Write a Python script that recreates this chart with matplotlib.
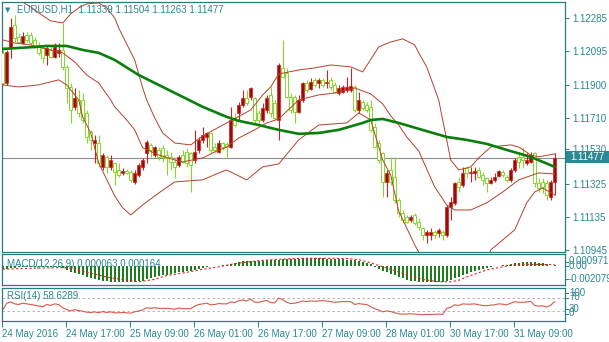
import numpy as np
import matplotlib
matplotlib.use("Agg")
import matplotlib.pyplot as plt
from matplotlib.patches import Rectangle

# EURUSD H1, 24-31 May 2016 (one value per hourly bar)
opens = [
    1.12084, 1.11910, 1.12118, 1.12245, 1.12176, 1.12141, 1.12188, 1.12188, 1.12159, 1.12130,
    1.12113, 1.12072, 1.12101, 1.12061, 1.12084, 1.12101, 1.12003, 1.11887, 1.11772, 1.11812,
    1.11812, 1.11737, 1.11627, 1.11563, 1.11563, 1.11425, 1.11483, 1.11425, 1.11448, 1.11407,
    1.11390, 1.11402, 1.11396, 1.11338, 1.11378, 1.11425, 1.11506, 1.11552, 1.11494, 1.11523,
    1.11535, 1.11494, 1.11483, 1.11454, 1.11436, 1.11494, 1.11511, 1.11506, 1.11465, 1.11523,
    1.11581, 1.11598, 1.11621, 1.11540, 1.11511, 1.11563, 1.11558, 1.11540, 1.11708, 1.11737,
    1.11783, 1.11824, 1.11829, 1.11824, 1.11737, 1.11696, 1.11754, 1.11841, 1.11795, 1.11696,
    1.11997, 1.11968, 1.11829, 1.11829, 1.11743, 1.11812, 1.11910, 1.11876, 1.11928, 1.11910,
    1.11928, 1.11910, 1.11928, 1.11899, 1.11852, 1.11858, 1.11870, 1.11870, 1.11887, 1.11754,
    1.11800, 1.11783, 1.11772, 1.11656, 1.11563, 1.11506, 1.11338, 1.11407, 1.11367, 1.11234,
    1.11159, 1.11136, 1.11118, 1.11147, 1.11107, 1.11072, 1.11032, 1.11032, 1.11049, 1.11043,
    1.11049, 1.11032, 1.11194, 1.11217, 1.11338, 1.11321, 1.11419, 1.11390, 1.11390, 1.11407,
    1.11378, 1.11361, 1.11332, 1.11350, 1.11373, 1.11396, 1.11367, 1.11350, 1.11407, 1.11483,
    1.11483, 1.11448, 1.11454, 1.11506, 1.11332, 1.11338, 1.11332, 1.11251, 1.11339,
]
highs = [
    1.12101, 1.12101, 1.12286, 1.12303, 1.12199, 1.12205, 1.12205, 1.12205, 1.12176, 1.12147,
    1.12118, 1.12130, 1.12118, 1.12141, 1.12141, 1.12257, 1.12014, 1.11910, 1.11881, 1.11870,
    1.11852, 1.11754, 1.11639, 1.11610, 1.11610, 1.11506, 1.11494, 1.11494, 1.11454, 1.11448,
    1.11419, 1.11413, 1.11407, 1.11407, 1.11448, 1.11477, 1.11581, 1.11563, 1.11546, 1.11540,
    1.11552, 1.11523, 1.11511, 1.11483, 1.11494, 1.11523, 1.11535, 1.11511, 1.11639, 1.11598,
    1.11656, 1.11627, 1.11627, 1.11563, 1.11581, 1.11569, 1.11569, 1.11772, 1.11737, 1.11800,
    1.11870, 1.11870, 1.11887, 1.11829, 1.11754, 1.11795, 1.11841, 1.11887, 1.11812, 1.12026,
    1.12159, 1.11997, 1.11852, 1.11841, 1.11841, 1.11916, 1.11928, 1.11939, 1.11939, 1.11939,
    1.11939, 1.11985, 1.11945, 1.11916, 1.11899, 1.11899, 1.11945, 1.11997, 1.11899, 1.11858,
    1.11812, 1.11800, 1.11812, 1.11679, 1.11581, 1.11511, 1.11407, 1.11483, 1.11483, 1.11246,
    1.11176, 1.11147, 1.11147, 1.11159, 1.11130, 1.11078, 1.11061, 1.11072, 1.11061, 1.11072,
    1.11061, 1.11205, 1.11251, 1.11338, 1.11367, 1.11425, 1.11425, 1.11425, 1.11425, 1.11425,
    1.11396, 1.11367, 1.11367, 1.11390, 1.11407, 1.11407, 1.11378, 1.11419, 1.11477, 1.11506,
    1.11540, 1.11506, 1.11511, 1.11511, 1.11361, 1.11361, 1.11350, 1.11350, 1.11504,
]
lows = [
    1.11899, 1.11899, 1.12055, 1.12147, 1.12141, 1.12136, 1.12147, 1.12130, 1.12113, 1.12072,
    1.12026, 1.12014, 1.12055, 1.12055, 1.12061, 1.11985, 1.11795, 1.11679, 1.11754, 1.11714,
    1.11679, 1.11563, 1.11523, 1.11448, 1.11425, 1.11407, 1.11390, 1.11407, 1.11321, 1.11367,
    1.11378, 1.11384, 1.11338, 1.11326, 1.11367, 1.11407, 1.11448, 1.11483, 1.11483, 1.11465,
    1.11454, 1.11378, 1.11407, 1.11361, 1.11425, 1.11448, 1.11425, 1.11280, 1.11448, 1.11506,
    1.11563, 1.11540, 1.11506, 1.11511, 1.11506, 1.11523, 1.11483, 1.11535, 1.11656, 1.11696,
    1.11772, 1.11783, 1.11812, 1.11679, 1.11667, 1.11685, 1.11737, 1.11714, 1.11696, 1.11581,
    1.11939, 1.11824, 1.11737, 1.11679, 1.11737, 1.11800, 1.11858, 1.11870, 1.11887, 1.11881,
    1.11887, 1.11881, 1.11870, 1.11852, 1.11841, 1.11852, 1.11858, 1.11858, 1.11743, 1.11737,
    1.11754, 1.11743, 1.11627, 1.11535, 1.11448, 1.11251, 1.11251, 1.11321, 1.11217, 1.11136,
    1.11101, 1.11101, 1.11107, 1.11089, 1.11061, 1.11003, 1.10985, 1.11003, 1.11014, 1.11020,
    1.11003, 1.11020, 1.11118, 1.11205, 1.11280, 1.11309, 1.11361, 1.11338, 1.11350, 1.11361,
    1.11321, 1.11280, 1.11326, 1.11338, 1.11367, 1.11367, 1.11338, 1.11338, 1.11396, 1.11419,
    1.11419, 1.11436, 1.11448, 1.11309, 1.11280, 1.11274, 1.11234, 1.11234, 1.11263,
]
closes = [
    1.11910, 1.12089, 1.12234, 1.12170, 1.12147, 1.12182, 1.12159, 1.12141, 1.12118, 1.12084,
    1.12055, 1.12113, 1.12061, 1.12118, 1.12101, 1.12003, 1.11881, 1.11754, 1.11824, 1.11737,
    1.11696, 1.11598, 1.11581, 1.11581, 1.11448, 1.11494, 1.11425, 1.11465, 1.11396, 1.11378,
    1.11402, 1.11390, 1.11350, 1.11390, 1.11436, 1.11465, 1.11569, 1.11523, 1.11540, 1.11483,
    1.11483, 1.11477, 1.11454, 1.11425, 1.11483, 1.11454, 1.11448, 1.11436, 1.11511, 1.11581,
    1.11610, 1.11621, 1.11523, 1.11523, 1.11563, 1.11540, 1.11540, 1.11696, 1.11667, 1.11783,
    1.11824, 1.11795, 1.11881, 1.11696, 1.11696, 1.11766, 1.11824, 1.11737, 1.11708, 1.12014,
    1.11945, 1.11829, 1.11754, 1.11743, 1.11812, 1.11910, 1.11870, 1.11916, 1.11899, 1.11928,
    1.11899, 1.11916, 1.11887, 1.11858, 1.11881, 1.11887, 1.11887, 1.11893, 1.11754, 1.11812,
    1.11766, 1.11754, 1.11639, 1.11540, 1.11465, 1.11338, 1.11390, 1.11338, 1.11234, 1.11159,
    1.11118, 1.11107, 1.11136, 1.11101, 1.11078, 1.11032, 1.11049, 1.11049, 1.11032, 1.11061,
    1.11032, 1.11194, 1.11222, 1.11332, 1.11309, 1.11390, 1.11390, 1.11396, 1.11402, 1.11367,
    1.11350, 1.11332, 1.11350, 1.11367, 1.11402, 1.11378, 1.11350, 1.11407, 1.11465, 1.11454,
    1.11465, 1.11465, 1.11494, 1.11332, 1.11303, 1.11309, 1.11263, 1.11338, 1.11477,
]

# moving average (thick green), read at some bars
ma_idx = [0, 8, 11, 16, 20, 24, 28, 34, 38, 42, 50, 56, 59, 64, 69, 74, 79, 84, 90, 92,
          95, 99, 104, 111, 116, 121, 126, 132, 138]
ma_val = [1.12107, 1.12118, 1.12124, 1.12124, 1.12101, 1.12084, 1.12043, 1.11956, 1.11910,
          1.11864, 1.11772, 1.11714, 1.11691, 1.11667, 1.11639, 1.11616, 1.11621, 1.11639,
          1.11679, 1.11696, 1.11702, 1.11679, 1.11645, 1.11598, 1.11581, 1.11558, 1.11523,
          1.11483, 1.11425]

# Bollinger bands
bb_up_idx = [0, 4, 7, 9, 12, 15, 17, 19, 21, 24, 26, 28, 29, 33, 35, 36, 38, 40, 43, 47,
             50, 56, 62, 65, 67, 69, 74, 78, 82, 87, 90, 94, 97, 100, 103, 104, 106, 109,
             111, 112, 114, 117, 119, 122, 127, 129, 132, 134, 138]
bb_up_val = [1.12419, 1.12390, 1.12350, 1.12315, 1.12269, 1.12257, 1.12309, 1.12344, 1.12367,
             1.12373, 1.12344, 1.12286, 1.12228, 1.12043, 1.11881, 1.11812, 1.11708, 1.11621,
             1.11563, 1.11552, 1.11604, 1.11679, 1.11754, 1.11841, 1.11887, 1.11962, 1.11985,
             1.11997, 1.12014, 1.12003, 1.11974, 1.12118, 1.12147, 1.12165, 1.12130, 1.12084,
             1.12003, 1.11812, 1.11581, 1.11465, 1.11407, 1.11425, 1.11477, 1.11540, 1.11552,
             1.11540, 1.11494, 1.11483, 1.11500]
bb_mid_idx = [0, 3, 7, 12, 15, 18, 21, 24, 27, 28, 31, 33, 35, 39, 43, 45, 50, 53, 56, 59,
              63, 66, 69, 74, 79, 83, 88, 92, 95, 97, 99, 101, 104, 108, 111, 113, 117, 121,
              125, 129, 134, 138]
bb_mid_val = [1.12159, 1.12141, 1.12130, 1.12101, 1.12084, 1.12032, 1.11956, 1.11910, 1.11812,
              1.11772, 1.11696, 1.11639, 1.11535, 1.11494, 1.11465, 1.11454, 1.11477, 1.11511,
              1.11540, 1.11592, 1.11639, 1.11679, 1.11702, 1.11812, 1.11841, 1.11852, 1.11881,
              1.11847, 1.11789, 1.11720, 1.11667, 1.11598, 1.11517, 1.11309, 1.11205, 1.11176,
              1.11176, 1.11217, 1.11280, 1.11350, 1.11390, 1.11384]
bb_low_idx = [0, 4, 9, 14, 16, 19, 20, 22, 24, 28, 30, 32, 35, 39, 43, 50, 54, 56, 61, 65,
              69, 74, 79, 86, 89, 92, 95, 97, 99, 103, 104, 108, 117, 121, 122, 128, 131, 133,
              135, 138]
bb_low_val = [1.11899, 1.11887, 1.11899, 1.11928, 1.11899, 1.11812, 1.11714, 1.11621, 1.11448,
              1.11257, 1.11188, 1.11147, 1.11205, 1.11274, 1.11338, 1.11350, 1.11390, 1.11407,
              1.11350, 1.11425, 1.11442, 1.11581, 1.11667, 1.11679, 1.11737, 1.11696, 1.11465,
              1.11378, 1.11170, 1.10974, 1.10933, 1.10743, 1.10714, 1.10876, 1.10945, 1.11061,
              1.11217, 1.11280, 1.11303, 1.11263]

# MACD(12,26,9): main (histogram) per bar, signal read at some bars
macd_main = [
    -0.00035, -0.00040, -0.00030, -0.00022, -0.00018, -0.00015, -0.00012, -0.00010, -0.00010, -0.00012,
    -0.00015, -0.00015, -0.00016, -0.00015, -0.00014, -0.00022, -0.00045, -0.00070, -0.00085, -0.00100,
    -0.00118, -0.00138, -0.00152, -0.00162, -0.00175, -0.00185, -0.00193, -0.00199, -0.00204, -0.00207,
    -0.00208, -0.00207, -0.00206, -0.00203, -0.00196, -0.00185, -0.00170, -0.00158, -0.00145, -0.00132,
    -0.00120, -0.00108, -0.00098, -0.00090, -0.00082, -0.00074, -0.00066, -0.00060, -0.00048, -0.00035,
    -0.00022, -0.00012, -0.00006, -0.00002, 0.00004, 0.00010, 0.00016, 0.00030, 0.00040, 0.00050,
    0.00058, 0.00062, 0.00068, 0.00066, 0.00066, 0.00068, 0.00072, 0.00072, 0.00070, 0.00082,
    0.00090, 0.00092, 0.00092, 0.00090, 0.00092, 0.00096, 0.00097, 0.00097, 0.00096, 0.00096,
    0.00095, 0.00094, 0.00092, 0.00088, 0.00086, 0.00084, 0.00082, 0.00080, 0.00072, 0.00066,
    0.00056, 0.00042, 0.00020, -0.00008, -0.00035, -0.00062, -0.00080, -0.00098, -0.00120, -0.00140,
    -0.00158, -0.00172, -0.00184, -0.00194, -0.00202, -0.00207, -0.00208, -0.00207, -0.00205, -0.00202,
    -0.00200, -0.00190, -0.00176, -0.00156, -0.00138, -0.00118, -0.00098, -0.00080, -0.00064, -0.00050,
    -0.00038, -0.00026, -0.00014, -0.00006, 0.00004, 0.00010, 0.00016, 0.00022, 0.00035, 0.00042,
    0.00048, 0.00052, 0.00055, 0.00048, 0.00040, 0.00032, 0.00020, 0.00005, 0.000063,
]
signal_idx = [0, 10, 16, 21, 27, 34, 38, 41, 45, 49, 54, 58, 62, 66, 70, 74, 80, 86, 89, 92,
              95, 98, 101, 105, 109, 112, 114, 117, 121, 124, 127, 131, 134, 138]
signal_val = [-0.0004, -0.00025, -0.0002, -0.0008, -0.0015, -0.0020, -0.0017, -0.0012, -0.0009,
              -0.0005, -0.0001, 0.0003, 0.00055, 0.00075, 0.00088, 0.00097, 0.00098, 0.00095,
              0.0008, 0.0004, -0.0001, -0.0006, -0.0011, -0.0017, -0.0020, -0.0020, -0.0018,
              -0.0012, -0.0005, -0.0002, 0.0001, 0.0002, 0.0002, 0.000164]

# RSI(14) per bar
rsi = [
    33, 54, 58, 52, 50, 54, 52, 50, 48, 45,
    43, 50, 47, 52, 50, 40, 34, 30, 34, 31,
    29, 26, 25, 27, 24, 28, 25, 27, 24, 24,
    25, 24, 23, 27, 30, 33, 40, 38, 40, 38,
    38, 38, 37, 35, 39, 37, 37, 37, 45, 50,
    52, 54, 49, 50, 53, 52, 52, 58, 56, 62,
    64, 61, 67, 57, 57, 60, 63, 56, 55, 70,
    65, 57, 53, 54, 57, 61, 59, 61, 60, 61,
    62, 61, 59, 57, 58, 59, 59, 59, 50, 53,
    51, 50, 43, 37, 33, 27, 30, 28, 24, 21,
    20, 20, 21, 20, 19, 18, 19, 19, 19, 20,
    19, 38, 41, 49, 47, 52, 51, 51, 52, 49,
    47, 46, 48, 49, 52, 51, 49, 54, 59, 57,
    57, 58, 60, 47, 45, 46, 42, 48, 58.63,
]

price_ticks = [1.12285, 1.12095, 1.11900, 1.11710, 1.11530, 1.11325, 1.11135, 1.10945]
date_idx = [0, 16, 32, 48, 64, 80, 96, 112, 128]
date_labels = ['24 May 2016', '24 May 17:00', '25 May 09:00', '26 May 01:00', '26 May 17:00',
               '27 May 09:00', '28 May 01:00', '30 May 17:00', '31 May 09:00']

W, H = 609, 342
TEAL = '#2b8790'
FRAME = '#2a7a82'
UP_BODY, UP_EDGE = '#9c0a0a', '#d81e1e'
DN_EDGE = '#84d82a'
BAND = '#b5402a'

plt.rcParams['font.family'] = ['Liberation Sans', 'DejaVu Sans']

fig = plt.figure(figsize=(W / 100, H / 100), dpi=100)
fig.patch.set_facecolor('white')


def box(x0, y0, x1, y1):
    return [x0 / W, 1 - y1 / H, (x1 - x0) / W, (y1 - y0) / H]


def px(x, y):
    return x / W, 1 - y / H


ax = fig.add_axes(box(2, 2, 565, 252))
ax_macd = fig.add_axes(box(2, 254, 565, 285))
ax_rsi = fig.add_axes(box(2, 288, 565, 321))

for a in (ax, ax_macd, ax_rsi):
    a.set_xlim(-0.175, 140.575)
    for s in a.spines.values():
        s.set_color(FRAME)
        s.set_linewidth(0.9)
    a.set_xticks([])

o = np.array(opens)
h = np.array(highs)
l = np.array(lows)
c = np.array(closes)
idx = np.arange(len(o))
up = c >= o
dn = ~up

# price line
ax.axhline(closes[-1], color='#8c8c8c', lw=0.8, zorder=0.5)

# candles: red = bullish, hollow lime = bearish
ax.vlines(idx[up], l[up], h[up], color=UP_EDGE, lw=0.8, zorder=2)
ax.vlines(idx[dn], l[dn], h[dn], color=DN_EDGE, lw=0.8, zorder=2)
ax.bar(idx[up], c[up] - o[up], bottom=o[up], width=0.72, color=UP_BODY,
       edgecolor=UP_EDGE, lw=0.5, zorder=3)
ax.bar(idx[dn], c[dn] - o[dn], bottom=o[dn], width=0.72, color='white',
       edgecolor=DN_EDGE, lw=0.7, zorder=3)

# indicators on the main chart
ax.plot(bb_up_idx, bb_up_val, color=BAND, lw=0.7, zorder=4)
ax.plot(bb_mid_idx, bb_mid_val, color=BAND, lw=0.7, zorder=4)
ax.plot(bb_low_idx, bb_low_val, color=BAND, lw=0.7, zorder=4)
ax.plot(ma_idx, ma_val, color='#0a7d0a', lw=1.9, zorder=5, solid_capstyle='round')

ax.set_ylim(1.10933, 1.12378)
ax.yaxis.tick_right()
ax.set_yticks(price_ticks)
ax.set_yticklabels(['%.5f' % p for p in price_ticks])
ax.tick_params(axis='y', length=3, width=0.7, color=FRAME, labelcolor=TEAL,
               labelsize=7, pad=2)

# MACD panel
ax_macd.bar(idx, macd_main, width=0.6, color='#1b7d1b', zorder=2)
ax_macd.plot(signal_idx, signal_val, color='#e02020', lw=0.8, ls=(0, (2, 2)), zorder=3)
ax_macd.set_ylim(-0.00241, 0.00152)
ax_macd.set_yticks([])

# RSI panel
ax_rsi.axhline(70, color='#a8a8a8', lw=0.6, ls=(0, (3, 3)))
ax_rsi.axhline(30, color='#a8a8a8', lw=0.6, ls=(0, (3, 3)))
ax_rsi.plot(idx, rsi, color='#d65a4a', lw=0.8)
ax_rsi.set_ylim(-1.6, 101.6)
ax_rsi.set_yticks([])
ax_rsi.set_xticks(np.array(date_idx) - 0.15)
ax_rsi.set_xticklabels(date_labels)
ax_rsi.tick_params(axis='x', length=4, width=0.7, color=FRAME, labelcolor=TEAL,
                   labelsize=7, pad=1.5)
for lab in ax_rsi.get_xticklabels():
    lab.set_ha('left')

# header texts
fig.text(*px(8, 10), '\u25bc', color=TEAL, fontsize=5, ha='center', va='center',
         family='DejaVu Sans')
fig.text(*px(17, 10), 'EURUSD,H1  1.11339 1.11504 1.11263 1.11477', color=TEAL,
         fontsize=7, ha='left', va='center')
fig.text(*px(7, 264), 'MACD(12,26,9) 0.000063 0.000164', color=TEAL, fontsize=7,
         ha='left', va='center', zorder=10)
fig.text(*px(7, 296), 'RSI(14) 58.6289', color=TEAL, fontsize=7, ha='left',
         va='center', zorder=10)

# sub-window scale labels
for txt, y in [('0.000971', 261.5), ('0.00', 266), ('-0.002079', 279),
               ('100', 292.5), ('70', 297.5), ('30', 309), ('0', 313.5)]:
    fig.text(*px(569, y), txt, color=TEAL, fontsize=7, ha='left', va='center')
    fig.add_artist(plt.Line2D([565 / W, 568 / W], [1 - y / H, 1 - y / H],
                              color=FRAME, lw=0.7))

# current price tag
fig.add_artist(Rectangle(px(566, 163), 43 / W, 12 / H, transform=fig.transFigure,
                         facecolor='#2a8a93', edgecolor='none', zorder=10))
fig.text(*px(570, 157), '1.11477', color='white', fontsize=7, ha='left',
         va='center', zorder=11)

fig.savefig('out.png', dpi=100, facecolor='white')
